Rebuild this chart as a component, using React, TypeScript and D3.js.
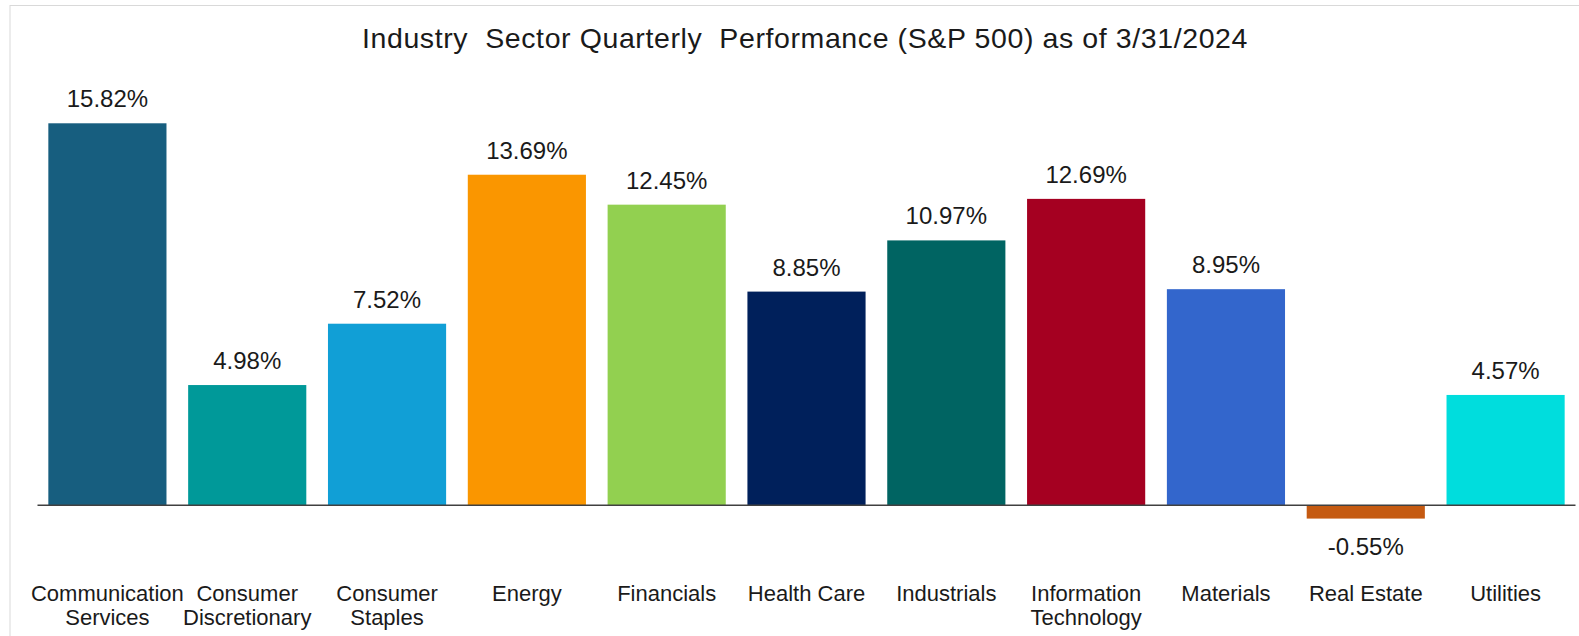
import React from "react";
import * as d3 from "d3";

// sector names (two-line labels split on "\n")
const sectors = [
  "Communication\nServices",
  "Consumer\nDiscretionary",
  "Consumer\nStaples",
  "Energy",
  "Financials",
  "Health Care",
  "Industrials",
  "Information\nTechnology",
  "Materials",
  "Real Estate",
  "Utilities",
];

// quarterly return, %
const returns = [15.82, 4.98, 7.52, 13.69, 12.45, 8.85, 10.97, 12.69, 8.95, -0.55, 4.57];

const colors = [
  "#175E7F",
  "#009999",
  "#119FD6",
  "#FA9600",
  "#92D050",
  "#00205B",
  "#006462",
  "#A50021",
  "#3366CC",
  "#C55A11",
  "#00DDDD",
];

const title = "Industry  Sector Quarterly  Performance (S&P 500) as of 3/31/2024";

const width = 1579;
const height = 636;
const font = "'Liberation Sans', Arial, sans-serif";
const textColor = "#1a1a1a";

export default function App() {
  // Set up scales
  const x = d3
    .scaleBand<string>()
    .domain(sectors)
    .range([37.5, 1575.5])
    .paddingInner(0.155)
    .paddingOuter(0.0775);

  const y = d3.scaleLinear().domain([0, 16]).range([505.3, 505.3 - 16 * 24.147]);

  return (
    <svg
      width={width}
      height={height}
      style={{ position: "absolute", left: 0, top: 0, background: "#fff" }}
      fontFamily={font}
    >
      {/* chart frame */}
      <rect x={10} y={5.5} width={width + 20} height={height + 20} fill="#fff" stroke="#d9d9d9" strokeWidth={1} />

      <text
        x={805}
        y={48}
        textAnchor="middle"
        fontSize={28.5}
        letterSpacing={0.6}
        fill={textColor}
        style={{ whiteSpace: "pre" }}
      >
        {title}
      </text>

      {/* bars */}
      {sectors.map((s, i) => {
        const v = returns[i];
        const y0 = y(0);
        const y1 = y(v);
        return (
          <rect
            key={s}
            x={x(s)}
            y={Math.min(y0, y1)}
            width={x.bandwidth()}
            height={Math.abs(y1 - y0)}
            fill={colors[i]}
          />
        );
      })}

      {/* zero line */}
      <line x1={x.range()[0]} x2={x.range()[1]} y1={y(0)} y2={y(0)} stroke="#404040" strokeWidth={1.5} />

      {/* value labels */}
      {sectors.map((s, i) => {
        const v = returns[i];
        const cx = (x(s) ?? 0) + x.bandwidth() / 2;
        const ty = v >= 0 ? y(v) - 16 : y(v) + 36;
        return (
          <text key={s} x={cx} y={ty} textAnchor="middle" fontSize={24} fill={textColor}>
            {v.toFixed(2)}%
          </text>
        );
      })}

      {/* category labels */}
      {sectors.map((s) => {
        const cx = (x(s) ?? 0) + x.bandwidth() / 2;
        return (
          <text key={s} x={cx} y={600.7} textAnchor="middle" fontSize={22} fill={textColor}>
            {s.split("\n").map((line, j) => (
              <tspan key={j} x={cx} dy={j === 0 ? 0 : 24.3}>
                {line}
              </tspan>
            ))}
          </text>
        );
      })}
    </svg>
  );
}
